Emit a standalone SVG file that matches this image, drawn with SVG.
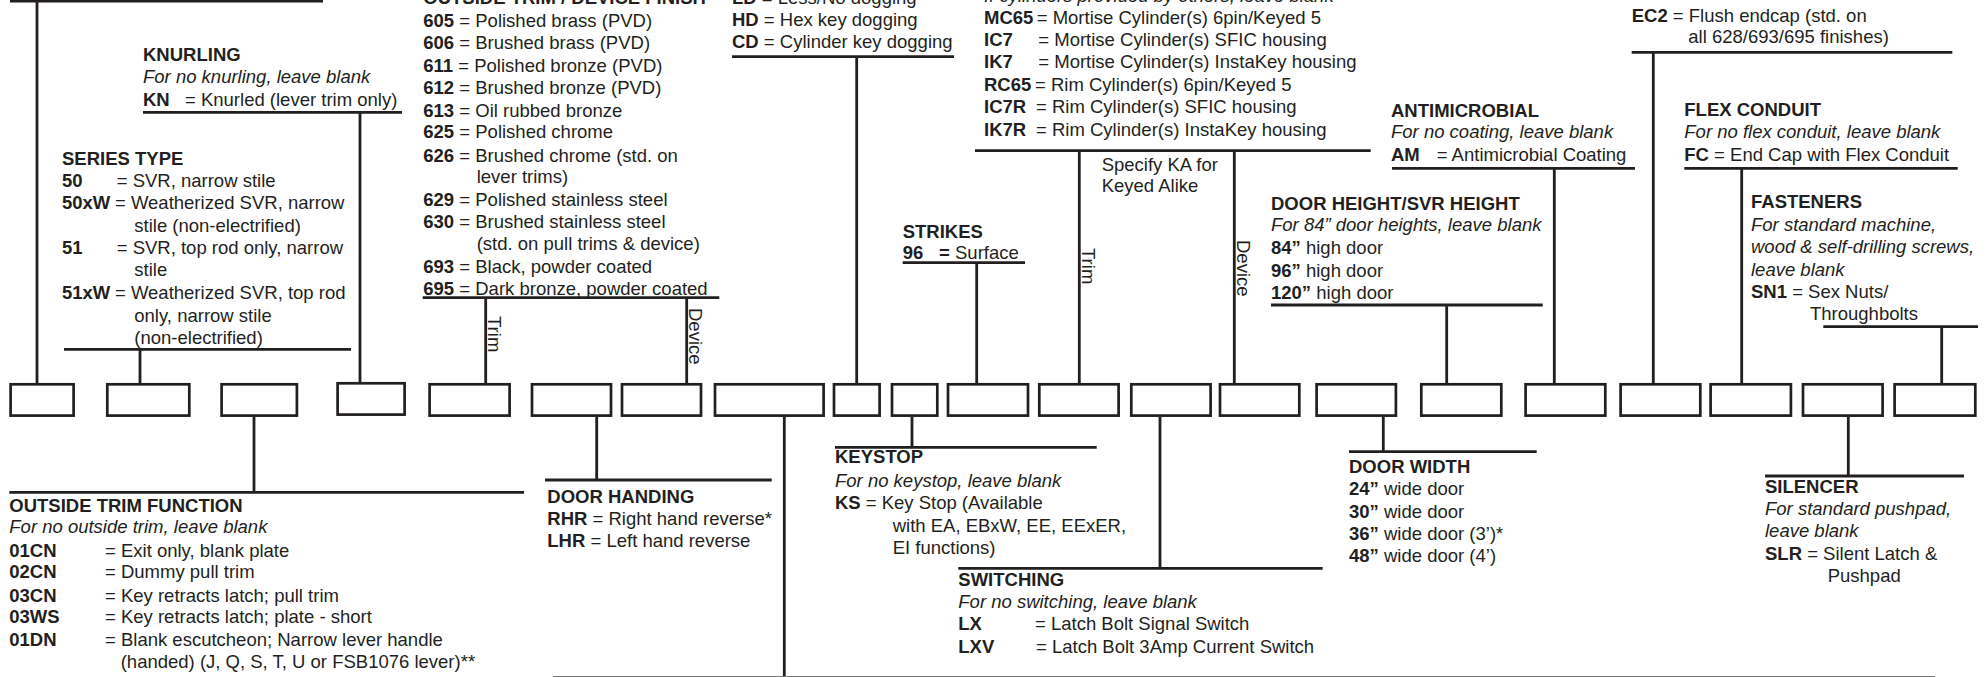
<svg xmlns="http://www.w3.org/2000/svg" width="1986" height="677" viewBox="0 0 1986 677">
<style>
.t{font-family:"Liberation Sans",Arial,sans-serif;font-size:18.5px;fill:#231f20}
.b{font-weight:bold}
.i{font-style:italic}
.ln{stroke:#231f20;stroke-width:2.8;fill:none}
.box{fill:#fff;stroke:#231f20;stroke-width:2.7}
</style>
<rect width="1986" height="677" fill="#fff"/>
<g id="connectors">
<path class="ln" d="M10 1H323M37 0V383"/>
<path class="ln" d="M143 112.3H402M360 112.3V382"/>
<path class="ln" d="M64 349.3H351M140 349.3V383"/>
<path class="ln" d="M422.7 297.7H719.3M485.7 297.7V383M686.7 297.7V383"/>
<path class="ln" d="M732 56.7H954M856.7 56.7V383"/>
<path class="ln" d="M975 150.7H1370.7M1079.3 150.7V383M1234.3 150.7V383"/>
<path class="ln" d="M902.7 262.7H1025M976.7 262.7V383"/>
<path class="ln" d="M1392 168.3H1635M1554.3 168.3V383"/>
<path class="ln" d="M1271 305H1542.7M1446.7 305V383"/>
<path class="ln" d="M1631.7 52.3H1952.3M1653.3 52.3V383"/>
<path class="ln" d="M1684.3 168.3H1957.7M1741.7 168.3V383"/>
<path class="ln" d="M1823.3 326.7H1978M1941.7 326.7V383"/>
<path class="ln" d="M254 417V492.3M9.3 492.3H524"/>
<path class="ln" d="M596.7 417V480M545 480H771.7"/>
<path class="ln" d="M784.3 417V677"/>
<path d="M553 676.5H1935" stroke="#777" stroke-width="1.2" fill="none"/>
<path class="ln" d="M912 417V447.3M835 447.3H1096.7"/>
<path class="ln" d="M1160 417V568.3M958.3 568.3H1322.7"/>
<path class="ln" d="M1383.3 417V451.7M1349 451.7H1536.7"/>
<path class="ln" d="M1848.3 417V476M1765 476H1964"/>
</g>
<g id="boxes">
<rect id="box1" class="box" x="10.6" y="384.3" width="63" height="31.3"/>
<rect id="box2" class="box" x="107.3" y="384.3" width="82" height="31.3"/>
<rect id="box3" class="box" x="221.6" y="384.3" width="75.3" height="31.3"/>
<rect id="box4" class="box" x="337.6" y="383.3" width="67" height="31.3"/>
<rect id="box5" class="box" x="429.6" y="384.3" width="80" height="31.3"/>
<rect id="box6" class="box" x="532" y="384.3" width="79" height="31.3"/>
<rect id="box7" class="box" x="622" y="384.3" width="79" height="31.3"/>
<rect id="box8" class="box" x="715" y="384.3" width="108.6" height="31.3"/>
<rect id="box9" class="box" x="834" y="384.3" width="45.6" height="31.3"/>
<rect id="box10" class="box" x="892" y="384.3" width="45.3" height="31.3"/>
<rect id="box11" class="box" x="948" y="384.3" width="80" height="31.3"/>
<rect id="box12" class="box" x="1039.3" y="384.3" width="79.3" height="31.3"/>
<rect id="box13" class="box" x="1131.3" y="384.3" width="79.3" height="31.3"/>
<rect id="box14" class="box" x="1220" y="384.3" width="79.3" height="31.3"/>
<rect id="box15" class="box" x="1316.6" y="384.3" width="79.3" height="31.3"/>
<rect id="box16" class="box" x="1421.3" y="384.3" width="80" height="31.3"/>
<rect id="box17" class="box" x="1525.6" y="384.3" width="79.7" height="31.3"/>
<rect id="box18" class="box" x="1620.6" y="384.3" width="79.7" height="31.3"/>
<rect id="box19" class="box" x="1710.6" y="384.3" width="80.3" height="31.3"/>
<rect id="box20" class="box" x="1803" y="384.3" width="79.6" height="31.3"/>
<rect id="box21" class="box" x="1894.6" y="384.3" width="80.7" height="31.3"/>
</g>
<g id="knurling" class="t">
<text x="143" y="61" class="b">KNURLING</text>
<text x="143" y="83" class="i">For no knurling, leave blank</text>
<text y="105.5"><tspan x="143" class="b">KN</tspan><tspan x="185">= Knurled (lever trim only)</tspan></text>
</g>
<g id="series-type" class="t">
<text x="62" y="164.5" class="b">SERIES TYPE</text>
<text y="187"><tspan x="62" class="b">50</tspan><tspan x="116.7">= SVR, narrow stile</tspan></text>
<text y="209.3"><tspan x="62" class="b">50xW</tspan><tspan x="115">= Weatherized SVR, narrow</tspan></text>
<text x="134.3" y="231.7">stile (non-electrified)</text>
<text y="254"><tspan x="62" class="b">51</tspan><tspan x="116.7">= SVR, top rod only, narrow</tspan></text>
<text x="134.3" y="276.3">stile</text>
<text y="299"><tspan x="62" class="b">51xW</tspan><tspan x="115">= Weatherized SVR, top rod</tspan></text>
<text x="134.3" y="321.5">only, narrow stile</text>
<text x="134.3" y="344">(non-electrified)</text>
</g>
<g id="finish" class="t">
<text x="423.3" y="4.3" class="b">OUTSIDE TRIM / DEVICE FINISH</text>
<text x="423.3" y="26.7"><tspan class="b">605</tspan> = Polished brass (PVD)</text>
<text x="423.3" y="49.3"><tspan class="b">606</tspan> = Brushed brass (PVD)</text>
<text x="423.3" y="71.7"><tspan class="b">611</tspan> = Polished bronze (PVD)</text>
<text x="423.3" y="94.3"><tspan class="b">612</tspan> = Brushed bronze (PVD)</text>
<text x="423.3" y="116.7"><tspan class="b">613</tspan> = Oil rubbed bronze</text>
<text x="423.3" y="138.3"><tspan class="b">625</tspan> = Polished chrome</text>
<text x="423.3" y="161.7"><tspan class="b">626</tspan> = Brushed chrome (std. on</text>
<text x="476.7" y="183.3">lever trims)</text>
<text x="423.3" y="205.7"><tspan class="b">629</tspan> = Polished stainless steel</text>
<text x="423.3" y="228.3"><tspan class="b">630</tspan> = Brushed stainless steel</text>
<text x="476.7" y="250">(std. on pull trims &amp; device)</text>
<text x="423.3" y="273.3"><tspan class="b">693</tspan> = Black, powder coated</text>
<text x="423.3" y="295"><tspan class="b">695</tspan> = Dark bronze, powder coated</text>
<text transform="translate(488,316) rotate(90)">Trim</text>
<text transform="translate(689,308) rotate(90)">Device</text>
</g>
<g id="dogging" class="t">
<text x="732" y="3.6"><tspan class="b">LD</tspan> = Less/No dogging</text>
<text x="732" y="26"><tspan class="b">HD</tspan> = Hex key dogging</text>
<text x="732" y="48.3"><tspan class="b">CD</tspan> = Cylinder key dogging</text>
</g>
<g id="cylinders" class="t">
<text x="984" y="1.6" class="i">If cylinders provided by others, leave blank</text>
<text y="24"><tspan x="984" class="b">MC65</tspan><tspan x="1036.7">= Mortise Cylinder(s) 6pin/Keyed 5</tspan></text>
<text y="45.7"><tspan x="984" class="b">IC7</tspan><tspan x="1038.3">= Mortise Cylinder(s) SFIC housing</tspan></text>
<text y="68.3"><tspan x="984" class="b">IK7</tspan><tspan x="1038.3">= Mortise Cylinder(s) InstaKey housing</tspan></text>
<text y="90.7"><tspan x="984" class="b">RC65</tspan><tspan x="1035">= Rim Cylinder(s) 6pin/Keyed 5</tspan></text>
<text y="113.3"><tspan x="984" class="b">IC7R</tspan><tspan x="1036">= Rim Cylinder(s) SFIC housing</tspan></text>
<text y="135.7"><tspan x="984" class="b">IK7R</tspan><tspan x="1036">= Rim Cylinder(s) InstaKey housing</tspan></text>
<text x="1101.7" y="170.7">Specify KA for</text>
<text x="1101.7" y="192.3">Keyed Alike</text>
<text transform="translate(1082,248) rotate(90)">Trim</text>
<text transform="translate(1237,240) rotate(90)">Device</text>
</g>
<g id="strikes" class="t">
<text x="902.7" y="237.7" class="b">STRIKES</text>
<text y="259.3"><tspan x="902.7" class="b">96</tspan><tspan x="939" class="b">=</tspan><tspan x="955">Surface</tspan></text>
</g>
<g id="antimicrobial" class="t">
<text x="1391" y="116.7" class="b">ANTIMICROBIAL</text>
<text x="1391" y="137.7" class="i">For no coating, leave blank</text>
<text y="161"><tspan x="1391" class="b">AM</tspan><tspan x="1436.7">= Antimicrobial Coating</tspan></text>
</g>
<g id="door-height" class="t">
<text x="1271" y="210" class="b">DOOR HEIGHT/SVR HEIGHT</text>
<text x="1271" y="231" class="i">For 84” door heights, leave blank</text>
<text x="1271" y="254"><tspan class="b">84”</tspan> high door</text>
<text x="1271" y="276.7"><tspan class="b">96”</tspan> high door</text>
<text x="1271" y="299"><tspan class="b">120”</tspan> high door</text>
</g>
<g id="endcap" class="t">
<text x="1631.7" y="21.7"><tspan class="b">EC2</tspan> = Flush endcap (std. on</text>
<text x="1688.3" y="43.3">all 628/693/695 finishes)</text>
</g>
<g id="flex-conduit" class="t">
<text x="1684.3" y="116" class="b">FLEX CONDUIT</text>
<text x="1684.3" y="137.7" class="i">For no flex conduit, leave blank</text>
<text x="1684.3" y="160.7"><tspan class="b">FC</tspan> = End Cap with Flex Conduit</text>
</g>
<g id="fasteners" class="t">
<text x="1751" y="208.3" class="b">FASTENERS</text>
<text x="1751" y="231" class="i">For standard machine,</text>
<text x="1751" y="253.3" class="i">wood &amp; self-drilling screws,</text>
<text x="1751" y="275.7" class="i">leave blank</text>
<text x="1751" y="298.3"><tspan class="b">SN1</tspan> = Sex Nuts/</text>
<text x="1810" y="320">Throughbolts</text>
</g>
<g id="outside-trim-function" class="t">
<text x="9.3" y="511.7" class="b">OUTSIDE TRIM FUNCTION</text>
<text x="9.3" y="533.3" class="i">For no outside trim, leave blank</text>
<text y="556.7"><tspan x="9.3" class="b">01CN</tspan><tspan x="105">= Exit only, blank plate</tspan></text>
<text y="578.3"><tspan x="9.3" class="b">02CN</tspan><tspan x="105">= Dummy pull trim</tspan></text>
<text y="601.7"><tspan x="9.3" class="b">03CN</tspan><tspan x="105">= Key retracts latch; pull trim</tspan></text>
<text y="623.3"><tspan x="9.3" class="b">03WS</tspan><tspan x="105">= Key retracts latch; plate - short</tspan></text>
<text y="646"><tspan x="9.3" class="b">01DN</tspan><tspan x="105">= Blank escutcheon; Narrow lever handle</tspan></text>
<text x="120.7" y="668.3">(handed) (J, Q, S, T, U or FSB1076 lever)**</text>
</g>
<g id="door-handing" class="t">
<text x="547.3" y="502.7" class="b">DOOR HANDING</text>
<text x="547.3" y="525"><tspan class="b">RHR</tspan> = Right hand reverse*</text>
<text x="547.3" y="547.3"><tspan class="b">LHR</tspan> = Left hand reverse</text>
</g>
<g id="keystop" class="t">
<text x="835" y="463.3" class="b">KEYSTOP</text>
<text x="835" y="486.7" class="i">For no keystop, leave blank</text>
<text y="509.3"><tspan x="835" class="b">KS</tspan><tspan x="865.7">= Key Stop (Available</tspan></text>
<text x="892.7" y="531.7">with EA, EBxW, EE, EExER,</text>
<text x="892.7" y="554">EI functions)</text>
</g>
<g id="switching" class="t">
<text x="958.3" y="586" class="b">SWITCHING</text>
<text x="958.3" y="607.7" class="i">For no switching, leave blank</text>
<text y="630"><tspan x="958.3" class="b">LX</tspan><tspan x="1035">= Latch Bolt Signal Switch</tspan></text>
<text y="652.7"><tspan x="958.3" class="b">LXV</tspan><tspan x="1036">= Latch Bolt 3Amp Current Switch</tspan></text>
</g>
<g id="door-width" class="t">
<text x="1349" y="472.7" class="b">DOOR WIDTH</text>
<text x="1349" y="495"><tspan class="b">24”</tspan> wide door</text>
<text x="1349" y="517.7"><tspan class="b">30”</tspan> wide door</text>
<text x="1349" y="540"><tspan class="b">36”</tspan> wide door (3’)*</text>
<text x="1349" y="562.3"><tspan class="b">48”</tspan> wide door (4’)</text>
</g>
<g id="silencer" class="t">
<text x="1765" y="492.7" class="b">SILENCER</text>
<text x="1765" y="515" class="i">For standard pushpad,</text>
<text x="1765" y="536.7" class="i">leave blank</text>
<text x="1765" y="560"><tspan class="b">SLR</tspan> = Silent Latch &amp;</text>
<text x="1827.7" y="582.3">Pushpad</text>
</g>
</svg>
